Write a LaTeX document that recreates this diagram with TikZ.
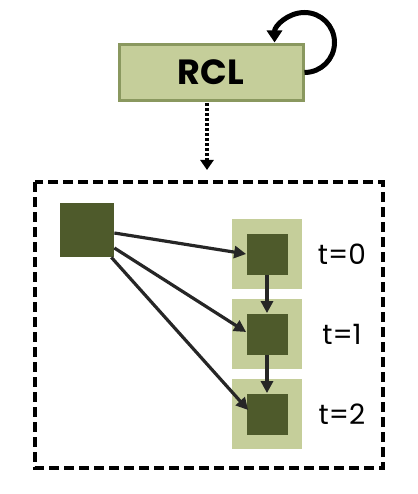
\documentclass[tikz,border=0pt]{standalone}
\usepackage{fontspec}
\setmainfont{Poppins}
\usetikzlibrary{arrows.meta,positioning}

\definecolor{olivedark}{RGB}{78,90,43}
\definecolor{olivelight}{RGB}{197,206,154}
\definecolor{oliveedge}{RGB}{138,152,95}

\tikzset{
  every picture/.style={line width=0.75pt},
  rclbox/.style={draw=oliveedge,line width=3pt,fill=olivelight,minimum width=184pt,minimum height=56pt,inner sep=0pt},
  unitbox/.style={fill=olivedark,minimum size=41pt,inner sep=0pt},
  srcbox/.style={fill=olivedark,minimum size=54pt,inner sep=0pt},
  haze/.style={fill=olivelight,minimum size=70pt,inner sep=0pt},
  tlabel/.style={font=\fontsize{28}{32}\selectfont,anchor=center},
  feed/.style={line width=3.2pt,draw=black!85,-{Triangle[length=12pt,width=12pt]}},
}

\begin{document}
\begin{tikzpicture}[x=1pt,y=1pt,yscale=-1]
\useasboundingbox (0,0) rectangle (417,494);

% RCL block
\node [rclbox] (rcl) at (211,72.5) {\fontsize{35}{38}\selectfont\bfseries RCL};
% self loop
\draw [line width=5pt,-{Triangle[length=12pt,width=15pt]}] (rcl.east) arc [start angle=90,end angle=-180,radius=30];
% down to the unrolled view
\coordinate (drop) at (207,170);
\draw [line width=3.4pt,dash pattern=on 3pt off 2pt,-{Triangle[length=10pt,width=13pt]}] (207,103) -- (drop);

% unrolled frame
\draw [line width=3.4pt,dash pattern=on 10pt off 5pt] (35,182) rectangle (383,468);

% input
\node [srcbox] (src) at (87,230) {};

% time steps
\foreach \i/\y in {0/254,1/334,2/414}{
  \node [haze] (bg\i) at (267,\y) {};
  \node [unitbox] (h\i) at (267,\y) {};
  \node [tlabel] (t\i) at (342,\y) {t=\i};
}

% connections
\draw [feed] (src.east |- 0,233) -- (h0.west);
\draw [feed] (src.east |- 0,248) -- ([yshift=-2pt]h1.west);
\draw [feed] ([xshift=-3pt]src.south east) -- ([xshift=2pt,yshift=-4pt]h2.west);
\draw [feed] (h0) -- (h1);
\draw [feed] (h1) -- (h2);

\end{tikzpicture}
\end{document}
